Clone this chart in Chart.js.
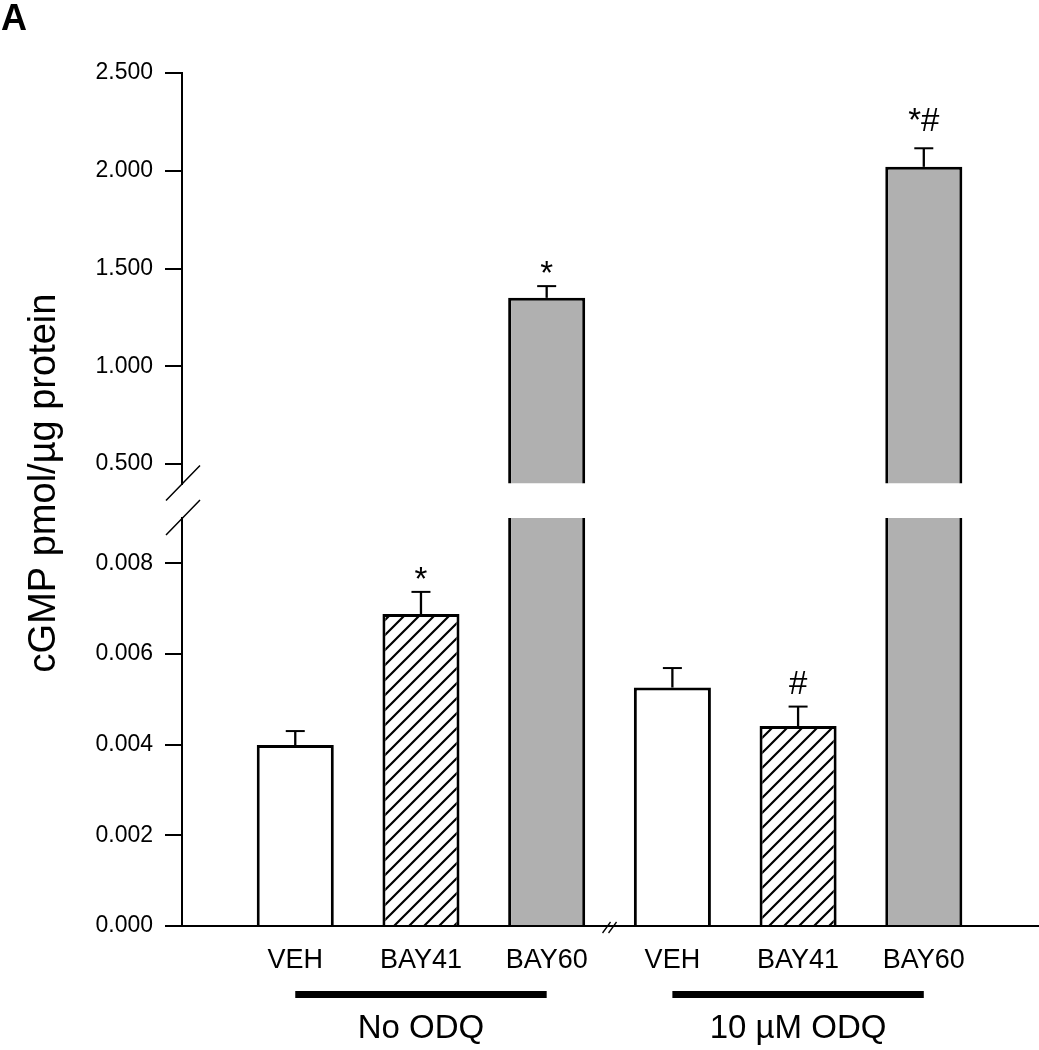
<!DOCTYPE html>
<html><head><meta charset="utf-8">
<script src="https://cdn.jsdelivr.net/npm/chart.js@4"></script>
<style>html,body{margin:0;padding:0;background:#fff;} canvas{display:block;}</style>
</head><body>
<canvas id="c" width="1039" height="1050"></canvas>
<script>
// ---- data ----
const categories = ['VEH', 'BAY41', 'BAY60', 'VEH', 'BAY41', 'BAY60'];
const means = [0.00399, 0.00688, 1.35, 0.00526, 0.00441, 2.02];
const errors = [0.00031, 0.00049, 0.06, 0.00043, 0.00043, 0.095];
const marks = ['', '*', '*', '', '#', '*#'];
const groupNames = ['No ODQ', '10 µM ODQ'];
const groupFirst = [0, 3];
const groupLast = [2, 5];
const lowTicks = [0, 0.002, 0.004, 0.006, 0.008];
const highTicks = [0.5, 1.0, 1.5, 2.0, 2.5];
const lowRange = [0, 0.009];
const highRange = [0.4, 2.5];
const yTitle = 'cGMP pmol/µg protein';
const panelLabel = 'A';

// ---- styles ----
const FONT = "'Liberation Sans', Arial, sans-serif";
const fillKinds = ['open', 'hatch', 'solid', 'open', 'hatch', 'solid'];
function makeHatch() {
  const s = 15;
  const c = document.createElement('canvas');
  c.width = s; c.height = s;
  const g = c.getContext('2d');
  g.fillStyle = '#fff'; g.fillRect(0, 0, s, s);
  g.strokeStyle = '#000'; g.lineWidth = 2.2; g.lineCap = 'square';
  g.beginPath();
  g.moveTo(-1, s + 1); g.lineTo(s + 1, -1);
  g.moveTo(-2, 2); g.lineTo(2, -2);
  g.moveTo(s - 2, s + 2); g.lineTo(s + 2, s - 2);
  g.stroke();
  return document.getElementById('c').getContext('2d').createPattern(c, 'repeat');
}
const hatch = makeHatch();
const styleMap = { open: '#ffffff', hatch: hatch, solid: '#b0b0b0' };
const fills = fillKinds.map(k => styleMap[k]);

const lowData = means.map((v, i) => ({ x: i, y: v }));
const highData = means.map((v, i) => ({ x: i, y: v > lowRange[1] ? v : null }));

const barCommon = {
  backgroundColor: fills,
  borderColor: '#000',
  borderWidth: 3,
  borderSkipped: 'bottom',
  grouped: false,
  barPercentage: 0.613,
  categoryPercentage: 1
};

const deco = {
  id: 'deco',
  beforeDatasetDraw(chart, args) {
    const ys = chart.scales[args.meta.yAxisID];
    const ca = chart.chartArea;
    const ctx = chart.ctx;
    ctx.save();
    ctx.beginPath();
    ctx.rect(ca.left, ys.top, ca.right - ca.left, ys.bottom - ys.top);
    ctx.clip();
  },
  afterDatasetDraw(chart) {
    chart.ctx.restore();
  },
  afterDraw(chart) {
    const ctx = chart.ctx;
    const x = chart.scales.x, yL = chart.scales.yLow, yH = chart.scales.yHigh;
    const L = chart.chartArea.left;
    ctx.save();
    ctx.strokeStyle = '#000';
    ctx.fillStyle = '#000';
    // error bars + significance marks
    means.forEach((m, i) => {
      const s = m > lowRange[1] ? yH : yL;
      const px = x.getPixelForValue(i);
      const base = s.getPixelForValue(m);
      const top = s.getPixelForValue(m + errors[i]);
      ctx.lineWidth = 2.3;
      ctx.beginPath(); ctx.moveTo(px, base); ctx.lineTo(px, top); ctx.stroke();
      ctx.lineWidth = 2;
      ctx.beginPath(); ctx.moveTo(px - 9.5, top); ctx.lineTo(px + 9.5, top); ctx.stroke();
      if (marks[i]) {
        ctx.font = '33px ' + FONT;
        ctx.textAlign = 'center';
        ctx.textBaseline = 'alphabetic';
        const off = marks[i] === '*' ? 2 : (marks[i] === '#' ? 13 : 17);
        ctx.fillText(marks[i], px, top - off);
      }
    });
    // y-axis break marks
    ctx.lineWidth = 1.5;
    ctx.beginPath();
    ctx.moveTo(L - 16, yH.bottom + 17); ctx.lineTo(L + 18, yH.bottom - 18);
    ctx.moveTo(L - 16, yL.top + 17); ctx.lineTo(L + 18, yL.top - 18);
    ctx.stroke();
    // x-axis break marks
    const xb = x.getPixelForValue(2.5);
    const yb = yL.bottom;
    ctx.lineWidth = 1.3;
    ctx.beginPath();
    ctx.moveTo(xb - 7, yb + 7); ctx.lineTo(xb + 1, yb - 4);
    ctx.moveTo(xb - 1, yb + 7); ctx.lineTo(xb + 7, yb - 4);
    ctx.stroke();
    // group bars and labels
    ctx.font = '33px ' + FONT;
    ctx.textAlign = 'center';
    ctx.textBaseline = 'alphabetic';
    groupNames.forEach((g, k) => {
      const x0 = x.getPixelForValue(groupFirst[k]);
      const x1 = x.getPixelForValue(groupLast[k]);
      ctx.fillRect(x0, 991, x1 - x0, 7);
      ctx.fillText(g, (x0 + x1) / 2, 1038);
    });
    // y title
    ctx.save();
    ctx.translate(55, 483);
    ctx.rotate(-Math.PI / 2);
    ctx.font = '38px ' + FONT;
    ctx.textAlign = 'center';
    ctx.fillText(yTitle, 0, 0);
    ctx.restore();
    // panel label
    ctx.font = 'bold 36px ' + FONT;
    ctx.textAlign = 'left';
    ctx.fillText(panelLabel, 1, 30);
    ctx.restore();
  }
};

function yScale(range, ticks, weight, order) {
  return {
    type: 'linear', position: 'left', stack: 'v', stackWeight: weight, weight: order,
    min: range[0], max: range[1],
    afterBuildTicks: s => { s.ticks = ticks.map(v => ({ value: v })); },
    afterFit: s => { s.width = 182; },
    grid: { display: true, drawOnChartArea: false, drawTicks: true, tickLength: 17, color: '#000', lineWidth: 2 },
    border: { display: true, color: '#000', width: 2 },
    ticks: { callback: v => Number(v).toFixed(3), color: '#000', padding: 12, font: { family: FONT, size: 23 } }
  };
}

new Chart(document.getElementById('c'), {
  type: 'bar',
  data: {
    datasets: [
      Object.assign({ label: 'low', data: lowData, yAxisID: 'yLow', xAxisID: 'x' }, barCommon),
      Object.assign({ label: 'high', data: highData, yAxisID: 'yHigh', xAxisID: 'x' }, barCommon)
    ]
  },
  options: {
    responsive: false,
    animation: false,
    devicePixelRatio: 1,
    layout: { padding: { top: 73, right: 1, bottom: 0, left: 0 } },
    plugins: { legend: { display: false }, tooltip: { enabled: false } },
    scales: {
      x: {
        type: 'linear', position: 'bottom', min: -0.901, max: 5.9085, offset: false,
        afterBuildTicks: s => { s.ticks = categories.map((c, i) => ({ value: i })); },
        afterFit: s => { s.height = 124; },
        grid: { display: false, drawTicks: false, offset: false },
        border: { display: true, color: '#000', width: 2 },
        ticks: { callback: v => categories[v] ?? '', autoSkip: false, maxRotation: 0, color: '#000', padding: 18, font: { family: FONT, size: 27 } }
      },
      yHigh: yScale(highRange, highTicks, 410.6, 3),
      yGap: {
        type: 'linear', position: 'left', stack: 'v', stackWeight: 34.4, weight: 2, display: true,
        afterFit: s => { s.width = 182; },
        grid: { display: false, drawTicks: false },
        border: { display: false },
        ticks: { display: false }
      },
      yLow: yScale(lowRange, lowTicks, 408, 1)
    }
  },
  plugins: [deco]
});
</script>
</body></html>
